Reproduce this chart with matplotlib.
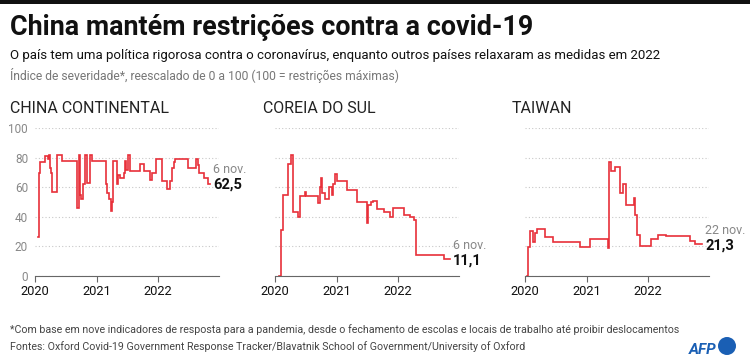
import matplotlib
matplotlib.use("Agg")
import matplotlib.pyplot as plt
import matplotlib.dates as mdates
from matplotlib import font_manager
from matplotlib.patches import Ellipse
import pandas as pd

# font: a narrow one if we have it
installed = {f.name for f in font_manager.fontManager.ttflist}
FONT = 'Liberation Sans Narrow' if 'Liberation Sans Narrow' in installed else 'Roboto'
plt.rcParams['font.family'] = [FONT, 'DejaVu Sans']

# Oxford stringency index (step data)
china_dates = ['2020-01-21', '2020-01-24', '2020-01-26', '2020-02-01', '2020-02-29',
               '2020-03-20', '2020-03-26', '2020-04-01', '2020-04-05', '2020-04-09',
               '2020-05-12', '2020-06-07', '2020-09-08', '2020-09-16', '2020-09-22',
               '2020-10-03', '2020-10-13', '2020-10-23', '2020-11-04', '2020-11-22',
               '2020-12-06', '2021-02-24', '2021-03-03', '2021-03-15', '2021-03-27',
               '2021-04-02', '2021-04-08', '2021-05-02', '2021-05-10', '2021-05-22',
               '2021-06-11', '2021-06-17', '2021-06-25', '2021-07-05', '2021-07-21',
               '2021-09-14', '2021-10-13', '2021-11-16', '2021-11-28', '2021-12-21',
               '2022-01-24', '2022-02-23', '2022-03-14', '2022-03-26', '2022-04-07',
               '2022-04-13', '2022-07-01', '2022-08-17', '2022-08-27', '2022-09-04',
               '2022-10-04', '2022-10-27', '2022-11-06']
china_vals = [26, 44, 70, 77, 81,
              79, 82, 73, 70, 57,
              82, 78, 46, 82, 55,
              52, 62, 82, 63, 82,
              78, 62, 56, 52, 44,
              50, 78, 62, 68, 66,
              70, 78, 72, 82, 71,
              76, 71, 65, 70, 79,
              64, 59, 64, 73, 77,
              79, 73, 79, 75, 70,
              66, 62.5, 62.5]

korea_dates = ['2020-01-27', '2020-02-03', '2020-02-19', '2020-03-20', '2020-04-03',
               '2020-04-18', '2020-05-18', '2020-05-28', '2020-06-28', '2020-07-03',
               '2020-09-15', '2020-09-22', '2020-10-01', '2020-10-06', '2020-10-25',
               '2020-11-19', '2020-12-03', '2020-12-13', '2020-12-25', '2021-01-06',
               '2021-03-03', '2021-05-02', '2021-07-03', '2021-07-10', '2021-07-24',
               '2021-08-09', '2021-08-29', '2021-10-08', '2021-11-17', '2021-12-06',
               '2021-12-26', '2022-02-04', '2022-03-16', '2022-04-09', '2022-04-21',
               '2022-10-01', '2022-11-06']
korea_vals = [0, 31, 55, 76, 82,
              43, 40, 54, 57, 54,
              49, 60, 66, 56, 52,
              60, 55, 62, 69, 64,
              58, 50, 36, 48, 50,
              51, 45, 43, 40, 46,
              46, 41, 40, 38, 14,
              11.1, 11.1]

taiwan_dates = ['2020-01-14', '2020-01-20', '2020-01-30', '2020-02-19', '2020-03-01',
                '2020-03-14', '2020-04-29', '2020-06-18', '2020-11-24', '2021-01-19',
                '2021-05-09', '2021-05-14', '2021-05-24', '2021-06-21', '2021-07-21',
                '2021-08-06', '2021-08-26', '2021-10-08', '2021-10-16', '2021-10-28',
                '2021-11-13', '2022-01-19', '2022-03-04', '2022-04-21', '2022-09-11',
                '2022-10-11', '2022-11-22']
taiwan_vals = [0, 19.5, 30, 23, 29,
               32, 26, 23, 19.7, 25,
               19, 77, 71, 74, 56,
               62, 48, 52.5, 41, 27.6,
               20, 25, 27.8, 27, 23.8,
               21.3, 21.3]

panel_titles = ['CHINA CONTINENTAL', 'COREIA DO SUL', 'TAIWAN']
end_labels = ['6 nov.', '6 nov.', '22 nov.']
end_values = ['62,5', '11,1', '21,3']
y_ticks = [0, 20, 40, 60, 80, 100]
years = ['2020', '2021', '2022']

series = [(china_dates, china_vals), (korea_dates, korea_vals), (taiwan_dates, taiwan_vals)]

W, H = 750, 362
RED = '#e8303a'
fig = plt.figure(figsize=(W / 100, H / 100), dpi=100)
fig.patch.set_facecolor('white')


def fx(px):
    return px / W


def fy(py):
    return 1 - py / H


# black rule at the very top
fig.add_artist(plt.Rectangle((0, fy(4)), 1, 4 / H, transform=fig.transFigure,
                             color='#111111', lw=0))

fig.text(fx(10), fy(35), 'China mantém restrições contra a covid-19', fontsize=19.4,
         fontweight='bold', color='#111111', va='baseline')
fig.text(fx(10), fy(59), 'O país tem uma política rigorosa contra o coronavírus, enquanto '
         'outros países relaxaram as medidas em 2022', fontsize=9.5, color='#111111',
         va='baseline')
fig.text(fx(10), fy(80), 'Índice de severidade*, reescalado de 0 a 100 (100 = restrições máximas)',
         fontsize=8.7, color='#777777', va='baseline')

lefts = [35, 275, 525]
title_x = [10, 263, 512]
year_ticks = pd.to_datetime([y + '-01-01' for y in years])

for i, (dates, vals) in enumerate(series):
    ax = fig.add_axes([fx(lefts[i]), fy(275.7), 184 / W, 147.4 / H])
    d = pd.to_datetime(dates)
    ax.plot(d, vals, drawstyle='steps-post', color=RED, lw=1.2, solid_joinstyle='miter')
    ax.set_xlim(pd.Timestamp('2020-01-01'), pd.Timestamp('2022-12-31'))
    ax.set_ylim(0, 100)
    ax.set_yticks(y_ticks)
    ax.yaxis.grid(True, linestyle=(0, (1, 2)), color='#c8c8c8', lw=0.8)
    ax.set_axisbelow(True)
    for s in ['top', 'right', 'left']:
        ax.spines[s].set_visible(False)
    ax.spines['bottom'].set_color('#666666')
    ax.spines['bottom'].set_linewidth(0.8)
    ax.set_xticks(year_ticks)
    ax.set_xticklabels(years)
    ax.tick_params(axis='x', length=4, width=0.8, color='#666666', labelsize=9.3,
                   labelcolor='#111111', pad=3)
    ax.tick_params(axis='y', length=0, labelsize=8.5, labelcolor='#888888', pad=5)
    if i > 0:
        ax.set_yticklabels([])
    ax.patch.set_visible(False)

    # end labels
    ax.annotate(end_labels[i], xy=(d[-1], vals[-1]), xytext=(3, 14),
                textcoords='offset pixels', va='center', ha='left',
                fontsize=9, color='#888888', annotation_clip=False)
    ax.annotate(end_values[i], xy=(d[-1], vals[-1]), xytext=(3, -1),
                textcoords='offset pixels', va='center', ha='left',
                fontsize=10.5, fontweight='bold', color='#111111', annotation_clip=False)

    fig.text(fx(title_x[i]), fy(113), panel_titles[i], fontsize=11.5, color='#222222',
             va='baseline')

fig.text(fx(10), fy(333), '*Com base em nove indicadores de resposta para a pandemia, desde o '
         'fechamento de escolas e locais de trabalho até proibir deslocamentos',
         fontsize=7.65, color='#444444', va='baseline')
fig.text(fx(10), fy(350), 'Fontes: Oxford Covid-19 Government Response Tracker/Blavatnik '
         'School of Government/University of Oxford',
         fontsize=7.65, color='#444444', va='baseline')

# AFP logo
AFP_BLUE = '#1a5fb4'
fig.text(fx(689), fy(354), 'AFP', fontsize=11, fontweight='bold', style='italic',
         color=AFP_BLUE, va='baseline')
fig.add_artist(Ellipse((fx(727), fy(346)), 18 / W, 18 / H, transform=fig.transFigure,
                       color=AFP_BLUE, lw=0))

fig.savefig('out.png', dpi=100, facecolor='white')
